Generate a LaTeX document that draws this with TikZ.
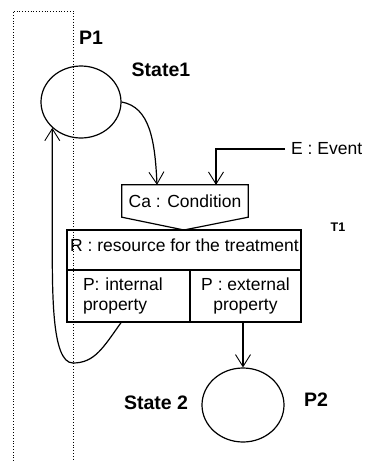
\documentclass[tikz,border=0pt]{standalone}
\usepackage{fontspec}
\setmainfont{Liberation Sans}
\usetikzlibrary{shapes.geometric, arrows.meta, positioning}
\tikzset{
    state/.style={ellipse, draw, line width=1.2pt, minimum width=80pt, minimum height=72pt, inner sep=0pt},
    cell/.style={rectangle, draw, line width=1.2pt, outer sep=0pt, align=center},
    lbl/.style={font=\fontsize{19.5}{22}\selectfont\bfseries, inner sep=0pt},
    txt/.style={font=\fontsize{17.5}{20}\selectfont},
    arrow/.style={-{Straight Barb[length=12pt, width=15pt, line width=0.9pt]}, line width=1.2pt}
}
\begin{document}
\begin{tikzpicture}[x=1pt, y=-1pt]
    \useasboundingbox (0,0) rectangle (365,461);
    % swimlane of P1
    \draw [dotted, line width=0.8pt] (13,461) |- (73,11) -- (73,461);

    \node (state1) [state] at (81,102) {};
    \node (p1) [lbl] at (91,38) {P1};
    \node (s1lbl) [lbl] at (161,70) {State1};

    \node (cond) [rectangle, minimum width=126pt, minimum height=32pt, txt] at (185,201) {Ca : Condition};
    \node (event) [txt, anchor=west, inner xsep=6pt] at (285,149) {E : Event};

    \node (res) [cell, minimum width=234pt, minimum height=40pt] at (184,250) {};
    \node (restext) [txt, anchor=west, inner xsep=3pt] at ([yshift=5pt]res.west) {R : resource for the treatment};
    \node (intp) [cell, txt, minimum width=123pt, minimum height=52pt, text width=91pt, inner xsep=16pt, align=left, below right=0pt and 0pt of res.south west] {P: internal\\property};
    \node (extp) [cell, txt, minimum width=111pt, minimum height=52pt, right=0pt of intp] {P : external\\property};
    \node (t1) [font=\fontsize{12.5}{14}\selectfont\bfseries] at (338,227) {T1};

    \draw [line width=1.2pt] (cond.north west) -- (cond.north east) -- (cond.south east) -- (res.north) -- (cond.south west) -- cycle;

    \node (state2) [state, minimum width=82pt, minimum height=74pt] at (243,405) {};
    \node (s2lbl) [lbl] at (156,403) {State 2};
    \node (p2) [lbl] at (316,400) {P2};

    \draw [arrow] (state1.east) .. controls +(28,5) and +(-2,-45) .. ([xshift=-28pt]cond.north);
    \draw [arrow] (event.west) -| ([xshift=31pt]cond.north);
    \draw [arrow] (state2.north |- extp.south) -- (state2.north);

    \coordinate (loopbot) at (73,363);
    \draw [arrow] ([xshift=-7pt]intp.south) .. controls +(-18,25) and +(22,0) .. (loopbot) .. controls +(-22,0) and +(0,60) .. (state1.south west |- res.north) -- (state1.south west);
\end{tikzpicture}
\end{document}
